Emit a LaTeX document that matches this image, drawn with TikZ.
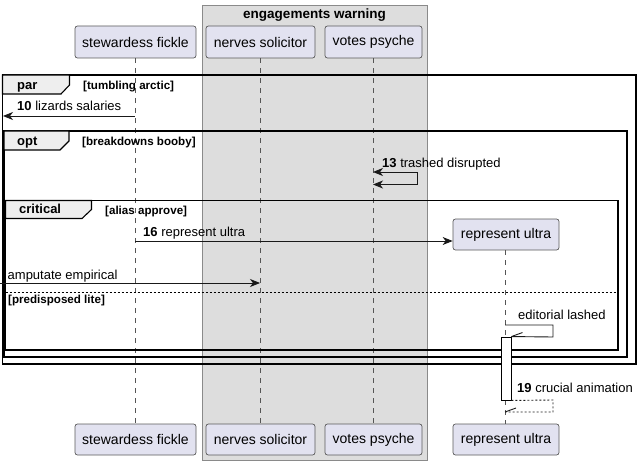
\documentclass[tikz,border=0pt]{standalone}
\usepackage{fontspec}
\setmainfont{Liberation Sans}
\usetikzlibrary{arrows.meta}
\definecolor{partfill}{HTML}{E2E2F0}
\definecolor{partdraw}{HTML}{5A5A5A}
\definecolor{boxfill}{HTML}{DDDDDD}
\definecolor{boxdraw}{HTML}{8A8A8A}
\definecolor{tabfill}{HTML}{EEEEEE}
\definecolor{lifecol}{HTML}{555555}
\begin{document}
\begin{tikzpicture}[x=1pt,y=-1pt,
  part/.style={draw=partdraw, fill=partfill, rounded corners=2.5pt, line width=0.7pt, inner sep=0pt, minimum height=32pt, font=\fontsize{14}{16}\selectfont},
  life/.style={draw=lifecol, dash pattern=on 5pt off 5pt, line width=0.6pt},
  msg/.style={draw=black!90, line width=0.9pt, -{Stealth[length=10pt,width=8pt,inset=3pt]}},
  plain/.style={draw=black!90, line width=0.9pt},
  msgtext/.style={font=\fontsize{13}{15}\selectfont, anchor=base west, inner sep=0pt},
  frm/.style={draw=black, line width=1.8pt},
  tabshape/.style={fill=tabfill, draw=black, line width=1.1pt},
  tablabel/.style={font=\bfseries\fontsize{13}{15}\selectfont, anchor=base west, inner sep=0pt},
  guard/.style={font=\bfseries\fontsize{11.6}{13}\selectfont, anchor=base west, inner sep=0pt},
  actbar/.style={fill=white, draw=black, line width=0.9pt},
]
\useasboundingbox (0,0) rectangle (642,465);

% group box
\draw[fill=boxfill, draw=boxdraw, line width=1pt] (202,6) rectangle (427,460);
\node[font=\bfseries\fontsize{13.5}{15}\selectfont, anchor=base, inner sep=0pt] (gtitle) at (314.5,18.5) {engagements warning};

% participants
\node[part, minimum width=121pt] (sf) at (135.5,42) {stewardess fickle};
\node[part, minimum width=109pt] (ns) at (260.5,42) {nerves solicitor};
\node[part, minimum width=97pt] (vp) at (373.5,42) {votes psyche};
\node[part, minimum width=106pt, minimum height=31pt] (ru) at (506,234.5) {represent ultra};

\node[part, minimum width=121pt, minimum height=31pt] (sf2) at (135.5,439.5) {stewardess fickle};
\node[part, minimum width=109pt, minimum height=31pt] (ns2) at (260.5,439.5) {nerves solicitor};
\node[part, minimum width=97pt, minimum height=31pt] (vp2) at (373.5,439.5) {votes psyche};
\node[part, minimum width=106pt, minimum height=31pt] (ru2) at (506,439.5) {represent ultra};

% lifelines
\draw[life] (sf.south -| 135,0) -- (sf2.north -| 135,0);
\draw[life] (ns.south -| 260,0) -- (ns2.north -| 260,0);
\draw[life] (vp.south -| 373,0) -- (vp2.north -| 373,0);
\draw[life] (ru.south -| 505,0) -- (ru2.north -| 505,0);

% frames
\draw[frm] (2.5,75) rectangle (636,364);
\draw[tabshape] (2.5,75) -- (69.5,75) -- (69.5,85) -- (61,94) -- (2.5,94) -- cycle;
\node[tablabel] (parlbl) at (17,90) {par};
\node[guard] (parg) at (83,89.5) {[tumbling arctic]};

\draw[frm] (4,131) rectangle (627,357);
\draw[tabshape] (4,131) -- (69,131) -- (69,141) -- (60,150) -- (4,150) -- cycle;
\node[tablabel] (optlbl) at (17,145.5) {opt};
\node[guard] (optg) at (82,146) {[breakdowns booby]};

\draw[frm] (5.5,200.5) rectangle (618,350);
\draw[tabshape] (5.5,200.5) -- (91.5,200.5) -- (91.5,209.5) -- (82,218.5) -- (5.5,218.5) -- cycle;
\node[tablabel] (critlbl) at (19,214) {critical};
\node[guard] (critg) at (105,214.3) {[alias approve]};

\draw[draw=black, line width=0.8pt, dash pattern=on 2pt off 2pt] (5.5,292) -- (618,292);
\node[guard] (elseg) at (8,303.5) {[predisposed lite]};

% coordinates
\coordinate (sf10) at (135,116);
\coordinate (left10) at (3,116);
\coordinate (vp13a) at (373,172);
\coordinate (vp13b) at (373,184.5);
\coordinate (sf16) at (135,241);
\coordinate (leftamp) at (0,283);
\coordinate (nsamp) at (260,283);
\coordinate (ru18a) at (505,325);
\coordinate (ru19) at (505,412);

% message 10
\draw[msg] (sf10) -- (left10);
\node[msgtext] (m10) at (17,111) {\textbf{10} lizards salaries};

% message 13
\draw[plain, {Stealth[length=10pt,width=8pt,inset=3pt]}-{Stealth[length=10pt,width=8pt,inset=3pt]}] (vp13a) -- (417,172) -- (417,184.5) -- (vp13b);
\node[msgtext] (m13) at (382,167.3) {\textbf{13} trashed disrupted};

% message 16
\draw[msg] (sf16) -- (sf16 -| ru.west);
\node[msgtext] (m16) at (143,236) {\textbf{16} represent ultra};

% amputate
\draw[msg] (leftamp) -- (nsamp);
\node[msgtext] (mamp) at (7.5,279) {amputate empirical};

% activation
\node[actbar, inner sep=0pt, minimum width=10pt, minimum height=63pt] (act) at (506,368.5) {};

% editorial lashed
\draw[plain] (ru18a) -- (553,325) -- (553,337) -- (act.north east);
\draw[plain] (act.north east) -- ++(11,-4);
\node[msgtext] (m18) at (518,319) {editorial lashed};

% message 19
\draw[plain, dash pattern=on 2pt off 2pt] (act.south east) -- (553,400) -- (553,412) -- (ru19);
\draw[plain] (ru19) -- ++(11,-4);
\node[msgtext] (m19) at (517,392.5) {\textbf{19} crucial animation};

\end{tikzpicture}
\end{document}
